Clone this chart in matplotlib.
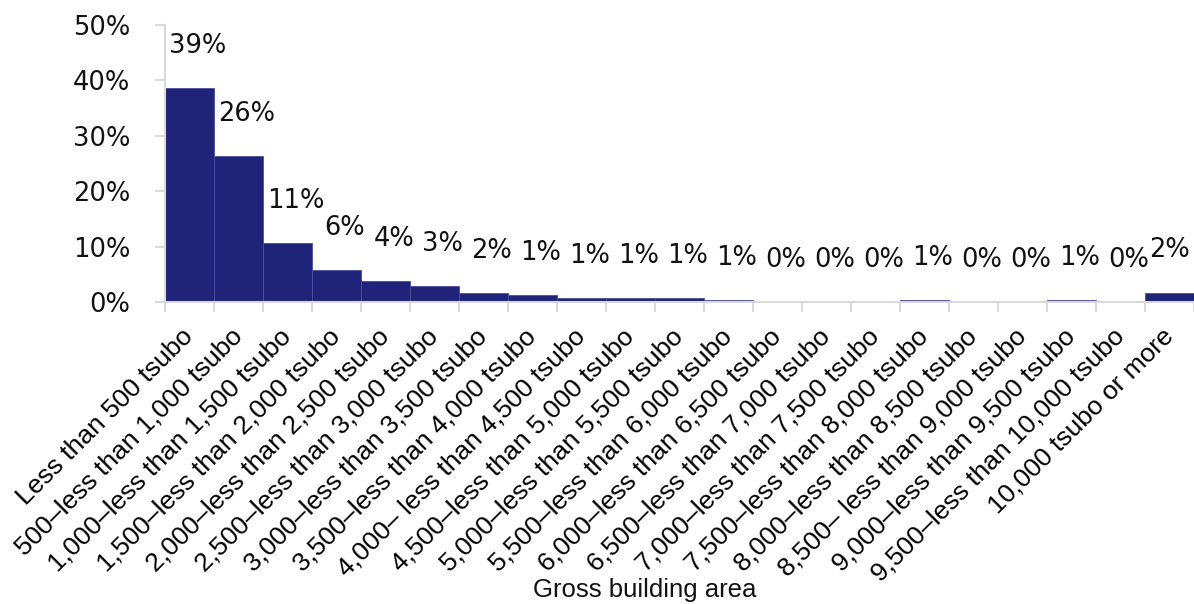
import numpy as np
import matplotlib
matplotlib.use("Agg")
import matplotlib.pyplot as plt
from matplotlib.ticker import FuncFormatter, FixedLocator

categories = [
    "Less than 500 tsubo",
    "500\u2013less than 1,000 tsubo",
    "1,000\u2013less than 1,500 tsubo",
    "1,500\u2013less than 2,000 tsubo",
    "2,000\u2013less than 2,500 tsubo",
    "2,500\u2013less than 3,000 tsubo",
    "3,000\u2013less than 3,500 tsubo",
    "3,500\u2013less than 4,000 tsubo",
    "4,000\u2013 less than 4,500 tsubo",
    "4,500\u2013less than 5,000 tsubo",
    "5,000\u2013less than 5,500 tsubo",
    "5,500\u2013less than 6,000 tsubo",
    "6,000\u2013less than 6,500 tsubo",
    "6,500\u2013less than 7,000 tsubo",
    "7,000\u2013less than 7,500 tsubo",
    "7,500\u2013less than 8,000 tsubo",
    "8,000\u2013less than 8,500 tsubo",
    "8,500\u2013 less than 9,000 tsubo",
    "9,000\u2013less than 9,500 tsubo",
    "9,500\u2013less than 10,000 tsubo",
    "10,000 tsubo or more",
]

# share of buildings (%)
shares = [38.6, 26.4, 10.7, 5.7, 3.8, 2.9, 1.6, 1.2, 0.7, 0.7, 0.7, 0.4,
          0.0, 0.0, 0.0, 0.4, 0.0, 0.0, 0.4, 0.0, 1.7]
# printed labels
labels = ["39%", "26%", "11%", "6%", "4%", "3%", "2%", "1%", "1%", "1%", "1%",
          "1%", "0%", "0%", "0%", "1%", "0%", "0%", "1%", "0%", "2%"]

navy = "#1f237a"
grey = "#d9d9d9"
num_font = "DejaVu Sans"
txt_font = "Liberation Sans"

fig = plt.figure(figsize=(11.94, 6.04), dpi=100)
ax = fig.add_axes([0.138, 0.5, 0.862, 0.4586])

x = np.arange(len(categories))
ax.bar(x, shares, width=1.0, color=navy, edgecolor="#4a4f9a", linewidth=0.6)

for i, (v, lab) in enumerate(zip(shares, labels)):
    dx = 6 if i < len(shares) - 1 else 0
    ax.annotate(lab, (i, v), xytext=(dx, 21), textcoords="offset points",
                ha="center", va="bottom", fontsize=18.5, family=num_font,
                color="#111111")

ax.set_xlim(-0.5, len(categories) - 0.5)
ax.set_ylim(0, 50)
ax.yaxis.set_major_locator(FixedLocator([0, 10, 20, 30, 40, 50]))
ax.yaxis.set_major_formatter(FuncFormatter(lambda v, p: f"{v:.0f}%"))
for t in ax.get_yticklabels():
    t.set_family(num_font)

ax.set_xticks(x)
ax.set_xticklabels(categories, rotation=45, ha="right", va="center",
                   rotation_mode="anchor", family=txt_font, fontsize=19)
ax.set_xticks(np.arange(-0.5, len(categories)), minor=True)

ax.tick_params(axis="x", which="major", length=0, pad=22)
ax.tick_params(axis="x", which="minor", length=7, color=grey, width=1.5)
ax.tick_params(axis="y", length=7, color=grey, width=1.5, pad=18,
               labelsize=18.5, labelcolor="#111111")

for s in ["top", "right"]:
    ax.spines[s].set_visible(False)
for s in ["left", "bottom"]:
    ax.spines[s].set_color(grey)
    ax.spines[s].set_linewidth(1.5)

fig.text(0.54, 0.011, "Gross building area", ha="center", va="baseline",
         family=txt_font, fontsize=18.5, color="#111111")

fig.savefig("out.png", dpi=100)
